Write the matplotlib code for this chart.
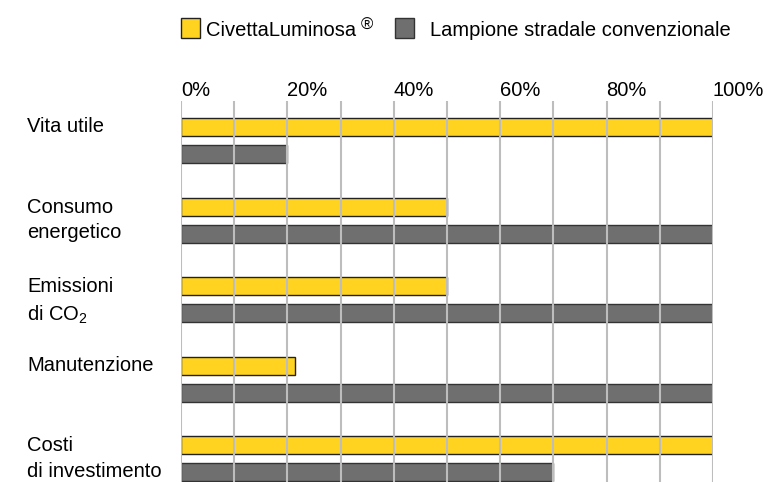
import numpy as np
import matplotlib
matplotlib.use('Agg')
import matplotlib.pyplot as plt
from matplotlib.patches import Rectangle

plt.rcParams['font.family'] = ['Liberation Sans', 'DejaVu Sans']
plt.rcParams['mathtext.fontset'] = 'custom'
plt.rcParams['mathtext.rm'] = 'Liberation Sans'
plt.rcParams['mathtext.it'] = 'Liberation Sans'

categories = ['Vita utile', 'Consumo\nenergetico', 'Emissioni\ndi CO$_2$',
              'Manutenzione', 'Costi\ndi investimento']
civetta = [100, 50, 50, 21.5, 100]
lampione = [20, 100, 100, 100, 70]
series_names = ['CivettaLuminosa', 'Lampione stradale convenzionale']
tick_vals = [0, 20, 40, 60, 80, 100]

YELLOW = '#ffd320'
GREY = '#6f6f6f'
FS = 14.5

fig = plt.figure(figsize=(7.68, 4.82), dpi=100)
W, H = 768, 482
top = 101
ax = fig.add_axes([181 / W, 0, (713 - 181) / W, (482 - top) / H])

y = np.arange(len(categories))
h = 18 / 79.5
off = 27 / 79.5
ax.barh(y, civetta, height=h, color=YELLOW, edgecolor='#222222', linewidth=1, zorder=2)
ax.barh(y + off, lampione, height=h, color=GREY, edgecolor='#333333', linewidth=1, zorder=2)

for v in range(0, 101, 10):
    ax.axvline(v, color='#bdbdbd', lw=1.5, zorder=3)

ax.set_xlim(0, 100)
ax.set_ylim((482 - 127) / 79.5, (top - 127) / 79.5)
ax.axis('off')

for yi, lab in zip(y, categories):
    ypos = yi + off / 2 if '\n' in lab else yi
    if 'CO' in lab:
        ypos += 2 / 79.5
    ax.text(-154 / 5.32, ypos, lab, ha='left', va='center', fontsize=FS,
            linespacing=1.45, clip_on=False)

for t in tick_vals:
    ax.text(t, (91 - 127) / 79.5, '{}%'.format(t), ha='left', va='center',
            fontsize=FS, clip_on=False)

# legend
fig.patches.append(Rectangle((181 / W, 1 - 38 / H), 19 / W, 20 / H, transform=fig.transFigure,
                             facecolor=YELLOW, edgecolor='#222222', lw=1))
fig.text(206 / W, 1 - 31 / H, series_names[0], ha='left', va='center', fontsize=FS)
fig.text(361 / W, 1 - 25 / H, '®', ha='left', va='center', fontsize=12)
fig.patches.append(Rectangle((395 / W, 1 - 38 / H), 19 / W, 20 / H, transform=fig.transFigure,
                             facecolor=GREY, edgecolor='#333333', lw=1))
fig.text(430 / W, 1 - 31 / H, series_names[1], ha='left', va='center', fontsize=FS)

fig.savefig('out.png', dpi=100)
